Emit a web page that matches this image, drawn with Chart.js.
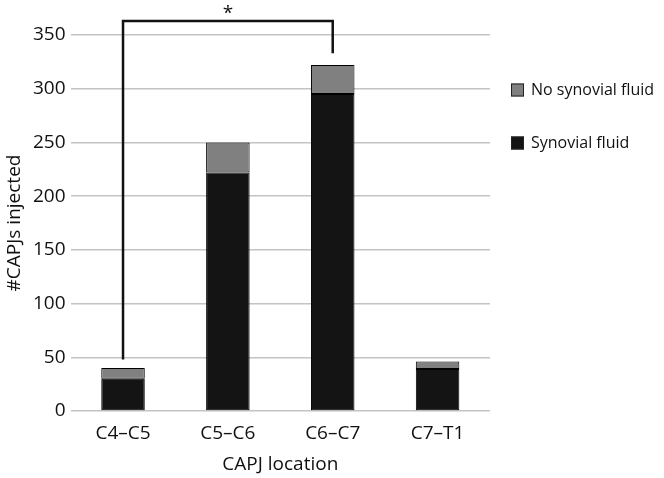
<!DOCTYPE html>
<html>
<head>
<meta charset="utf-8">
<script src="https://cdn.jsdelivr.net/npm/chart.js@4/dist/chart.umd.min.js"></script>
<style>
  html, body { margin: 0; padding: 0; background: #fff; }
  #wrap { width: 664px; height: 478px; }
</style>
</head>
<body>
<div id="wrap"><canvas id="chartCapj"></canvas></div>
<script>
const locations = ['C4\u2013C5', 'C5\u2013C6', 'C6\u2013C7', 'C7\u2013T1'];
const synovial = [30, 222, 295, 39];
const noSynovial = [10, 28, 27, 7];
const yTicks = [0, 50, 100, 150, 200, 250, 300, 350];
// significance bracket: from category, to category, [left foot, top, right foot]
const bracketCats = [0, 2];
const bracketLevels = [48, 363, 333];
const bracketLabel = '*';

const font = "'Open Sans', 'Noto Sans', sans-serif";

// bracket with asterisk, drawn through the scales
const bracketPlugin = {
  id: 'bracket',
  afterDatasetsDraw(chart) {
    const c = chart.ctx;
    const x = chart.scales.x, y = chart.scales.y;
    const x1 = x.getPixelForValue(bracketCats[0]);
    const x2 = x.getPixelForValue(bracketCats[1]);
    const yl = y.getPixelForValue(bracketLevels[0]);
    const yt = y.getPixelForValue(bracketLevels[1]);
    const yr = y.getPixelForValue(bracketLevels[2]);
    c.save();
    c.strokeStyle = '#111';
    c.lineWidth = 2.5;
    c.beginPath();
    c.moveTo(x1, yl);
    c.lineTo(x1, yt);
    c.lineTo(x2, yt);
    c.lineTo(x2, yr);
    c.stroke();
    c.fillStyle = '#111';
    c.font = '19px ' + font;
    c.textAlign = 'center';
    c.textBaseline = 'bottom';
    c.fillText(bracketLabel, (x1 + x2) / 2, yt + 2);
    c.restore();
  }
};

// legend to the right, top item last dataset
const sideLegend = {
  id: 'sideLegend',
  afterDraw(chart) {
    const c = chart.ctx;
    const area = chart.chartArea;
    const sets = chart.data.datasets.slice().reverse();
    c.save();
    c.font = '16px ' + font;
    c.textBaseline = 'middle';
    c.textAlign = 'left';
    sets.forEach((ds, i) => {
      const cy = area.top + 55 + i * 53;
      const bx = area.right + 21;
      c.fillStyle = ds.backgroundColor;
      c.fillRect(bx, cy - 6.5, 13, 13);
      c.strokeStyle = '#222';
      c.lineWidth = 1;
      c.strokeRect(bx + 0.5, cy - 6, 12, 12);
      c.fillStyle = '#111';
      c.fillText(ds.label, bx + 20, cy);
    });
    c.restore();
  }
};

const tickFont = { family: font, size: 19, lineHeight: 1.0 };

new Chart(document.getElementById('chartCapj'), {
  type: 'bar',
  data: {
    labels: locations,
    datasets: [
      {
        label: 'Synovial fluid',
        data: synovial,
        backgroundColor: '#141414',
        borderColor: '#000',
        borderWidth: 1,
        borderSkipped: false
      },
      {
        label: 'No synovial fluid',
        data: noSynovial,
        backgroundColor: '#808080',
        borderColor: '#000',
        borderWidth: 1,
        borderSkipped: false
      }
    ]
  },
  options: {
    responsive: true,
    maintainAspectRatio: false,
    animation: false,
    layout: { padding: { top: 35, right: 174, left: 1, bottom: 4 } },
    datasets: { bar: { barPercentage: 0.415, categoryPercentage: 1 } },
    plugins: {
      legend: { display: false },
      tooltip: { enabled: false }
    },
    scales: {
      x: {
        stacked: true,
        grid: { display: false },
        border: { display: false },
        ticks: { color: '#111', font: tickFont, padding: 5 },
        title: { display: true, text: 'CAPJ location', color: '#111', font: tickFont, padding: { top: 7, bottom: 0 } }
      },
      y: {
        stacked: true,
        min: 0,
        max: 350,
        afterBuildTicks(axis) { axis.ticks = yTicks.map(v => ({ value: v })); },
        grid: { color: '#c4c4c4', lineWidth: 1.5, drawTicks: false },
        border: { display: false },
        ticks: { color: '#111', font: tickFont, padding: 5 },
        title: { display: true, text: '#CAPJs injected', color: '#111', font: tickFont, padding: { top: 4, bottom: 4 } }
      }
    }
  },
  plugins: [bracketPlugin, sideLegend]
});
</script>
</body>
</html>
